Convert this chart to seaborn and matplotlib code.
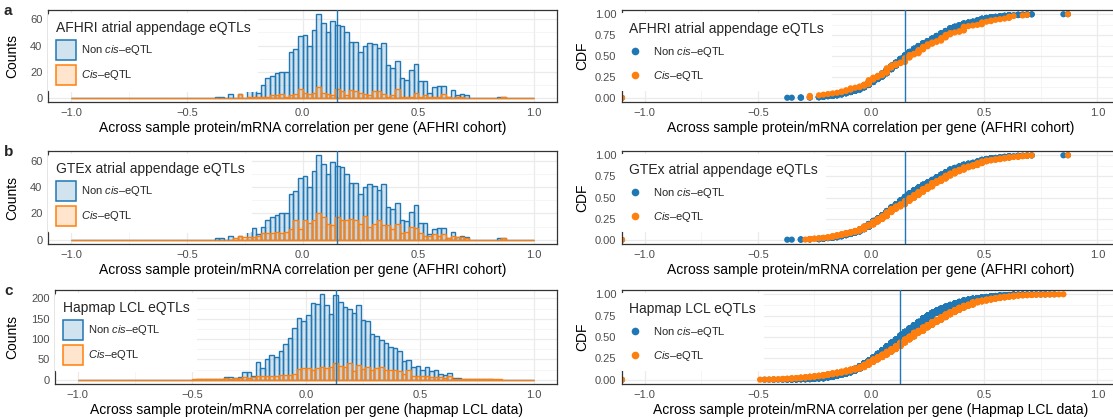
import numpy as np
import pandas as pd
import matplotlib
matplotlib.use("Agg")
import matplotlib.pyplot as plt
import seaborn as sns
from matplotlib.patches import Patch
from matplotlib.lines import Line2D
from matplotlib.colors import to_rgba
from matplotlib.ticker import MultipleLocator, FuncFormatter

# ---------------- data: gene counts per 0.02-wide correlation bin ----------------
BIN_WIDTH = 0.02

afhri_noncis_first_bin = -0.38
afhri_noncis_counts = [1, 1, 0, 3, 0, 3, 0, 8, 9, 4, 10, 15, 17, 19, 20, 20, 35, 37, 47, 48,
                       40, 52, 64, 57, 50, 59, 56, 55, 50, 43, 43, 35, 40, 42, 41, 38, 42, 25, 23, 28,
                       15, 14, 21, 26, 13, 13, 4, 8, 9, 9, 1, 6, 2, 3, 2, 0, 0, 0, 0, 0, 0, 1, 1]
afhri_cis_first_bin = -0.28
afhri_cis_counts = [3, 0, 1, 1, 1, 1, 1, 2, 2, 3, 1, 2, 3, 7, 4, 3, 4, 8, 4, 3,
                    2, 7, 5, 2, 6, 5, 4, 3, 2, 5, 5, 3, 1, 2, 7, 1, 1, 1, 4, 1,
                    2, 1, 1, 1, 3, 1, 0, 1, 1, 0, 0, 0, 0, 0, 0, 0, 0, 1]

gtex_noncis_first_bin = -0.38
gtex_noncis_counts = [1, 1, 0, 3, 0, 3, 0, 8, 9, 4, 10, 15, 17, 19, 20, 20, 35, 37, 47, 48,
                      40, 52, 64, 57, 50, 59, 56, 55, 50, 43, 43, 35, 40, 42, 41, 38, 42, 25, 23, 28,
                      15, 14, 21, 26, 13, 13, 4, 8, 9, 9, 1, 6, 2, 3, 2, 0, 0, 0, 0, 0, 0, 1, 1]
gtex_cis_first_bin = -0.30
gtex_cis_counts = [1, 3, 2, 2, 2, 3, 5, 5, 5, 6, 5, 6, 8, 15, 8, 15, 13, 15, 20, 17,
                   12, 11, 17, 15, 15, 16, 15, 12, 18, 10, 12, 15, 11, 11, 8, 12, 5, 6, 10, 9,
                   5, 3, 3, 4, 3, 4, 1, 3, 2, 2, 1, 0, 0, 0, 0, 0, 0, 0, 1]

hapmap_noncis_first_bin = -0.48
hapmap_noncis_counts = [1, 1, 2, 1, 2, 3, 6, 7, 4, 6, 18, 18, 9, 44, 29, 50, 60, 55, 71, 88,
                        103, 126, 151, 145, 160, 189, 185, 210, 183, 162, 208, 191, 178, 175, 164, 183, 147, 145, 112, 107,
                        97, 90, 80, 77, 71, 46, 49, 31, 34, 25, 31, 21, 23, 15, 12, 17, 4, 4, 3, 3,
                        2, 2, 2, 1, 1]
hapmap_cis_first_bin = -0.50
hapmap_cis_counts = [1, 1, 1, 2, 1, 3, 2, 4, 3, 5, 4, 6, 5, 6, 8, 8, 9, 9, 10, 12,
                     11, 12, 14, 27, 30, 28, 25, 28, 31, 29, 32, 40, 34, 32, 42, 21, 37, 27, 32, 24,
                     29, 31, 25, 24, 24, 21, 13, 25, 10, 10, 10, 10, 7, 7, 7, 4, 8, 3, 2, 2,
                     2, 1, 1, 1, 1, 1, 1, 1]

group_labels = ["Non $\\mathit{cis}$\u2013eQTL", "$\\mathit{Cis}$\u2013eQTL"]
panel_letters = ["a", "b", "c"]
legend_titles = ["AFHRI atrial appendage eQTLs", "GTEx atrial appendage eQTLs", "Hapmap LCL eQTLs"]
hist_xlabels = ["Across sample protein/mRNA correlation per gene (AFHRI cohort)",
                "Across sample protein/mRNA correlation per gene (AFHRI cohort)",
                "Across sample protein/mRNA correlation per gene (hapmap LCL data)"]
cdf_xlabels = ["Across sample protein/mRNA correlation per gene (AFHRI cohort)",
               "Across sample protein/mRNA correlation per gene (AFHRI cohort)",
               "Across sample protein/mRNA correlation per gene (Hapmap LCL data)"]
hist_ymajor = [20, 20, 50]

panels = [
    (afhri_noncis_first_bin, afhri_noncis_counts, afhri_cis_first_bin, afhri_cis_counts),
    (gtex_noncis_first_bin, gtex_noncis_counts, gtex_cis_first_bin, gtex_cis_counts),
    (hapmap_noncis_first_bin, hapmap_noncis_counts, hapmap_cis_first_bin, hapmap_cis_counts),
]

# ---------------- style ----------------
sns.set_style("white")
plt.rcParams["font.family"] = ["Liberation Sans", "DejaVu Sans"]
plt.rcParams["mathtext.fontset"] = "custom"
plt.rcParams["mathtext.rm"] = "Liberation Sans"
plt.rcParams["mathtext.it"] = "Liberation Sans:italic"
plt.rcParams["axes.unicode_minus"] = True

BLUE = "#1F77B4"
ORANGE = "#FF7F0E"
COLORS = [BLUE, ORANGE]
GRID_MAJ = "#EBEBEB"
BORDER = "#333333"
TICKTXT = "#4D4D4D"
AXIS_TITLE_SIZE = 10

W, H = 1113, 419
fig = plt.figure(figsize=(W / 100, H / 100), dpi=100)


def px_axes(x0, y0, x1, y1):
    return fig.add_axes([x0 / W, 1 - y1 / H, (x1 - x0) / W, (y1 - y0) / H])


def expand(first_bin, counts):
    centers = first_bin + BIN_WIDTH * (np.arange(len(counts)) + 0.5)
    return np.repeat(centers, counts)


def fmt(decimals):
    def f(v, pos):
        s = f"{v:.{decimals}f}"
        if float(s) == 0:
            s = s.lstrip("-")
        return s.replace("-", "\u2212")
    return FuncFormatter(f)


def style_axes(ax):
    ax.set_axisbelow(True)
    ax.grid(which="major", color=GRID_MAJ, lw=0.9)
    ax.grid(which="minor", color="#F1F1F1", lw=0.5)
    for sp in ax.spines.values():
        sp.set_color(BORDER)
        sp.set_linewidth(0.9)
        sp.set_visible(True)
    ax.tick_params(which="major", length=2.5, width=0.7, color=BORDER,
                   labelsize=8, labelcolor=TICKTXT, pad=1.5)
    ax.tick_params(which="minor", length=0)


rows = [(10, 102), (151, 244), (290, 384)]
hist_left = [48, 48, 55]
hist_right = 557
cdf_left, cdf_right = 622, 1120   # right border lies just past the image edge

bin_edges = np.linspace(-1.0, 1.0, 101)

for i, (nb, nc, cb, cc) in enumerate(panels):
    y0, y1 = rows[i]
    hh = y1 - y0
    noncis = expand(nb, nc)
    cis = expand(cb, cc)
    med = np.median(noncis)

    # ---------- histogram ----------
    axh = px_axes(hist_left[i], y0, hist_right, y1)
    style_axes(axh)
    for vals, col in zip([noncis, cis], COLORS):
        sns.histplot(x=vals, bins=bin_edges, color=col, alpha=0.2, edgecolor=col,
                     linewidth=1.0, ax=axh, zorder=2)
    axh.axvline(med, color=BLUE, lw=1.0, zorder=3)
    ymax = max(max(nc), max(cc))
    axh.set_xlim(-1.1, 1.1)
    axh.set_ylim(-0.05 * ymax, 1.05 * ymax)
    axh.xaxis.set_major_locator(MultipleLocator(0.5))
    axh.xaxis.set_minor_locator(MultipleLocator(0.25))
    axh.yaxis.set_major_locator(MultipleLocator(hist_ymajor[i]))
    axh.yaxis.set_minor_locator(MultipleLocator(hist_ymajor[i] / 2))
    axh.xaxis.set_major_formatter(fmt(1))
    axh.set_xlabel(hist_xlabels[i], fontsize=AXIS_TITLE_SIZE, color="black")
    axh.set_ylabel("Counts", fontsize=AXIS_TITLE_SIZE, color="black")
    hw = hist_right - hist_left[i]
    axh.xaxis.set_label_coords(0.5, -(121 - 102) / hh)
    axh.yaxis.set_label_coords((19 - hist_left[i]) / hw, 0.5)
    handles = [Patch(facecolor=to_rgba(c, 0.2), edgecolor=c, linewidth=1.1) for c in COLORS]
    leg = axh.legend(handles, group_labels, title=legend_titles[i], loc="upper left",
                     bbox_to_anchor=(-3 / hw, 1), fontsize=8, title_fontsize=10,
                     handlelength=1.8, handleheight=2.39, labelspacing=0.45,
                     handletextpad=0.5, borderaxespad=0.3, borderpad=0.65,
                     frameon=True, facecolor="white", edgecolor="none", framealpha=1,
                     alignment="left")
    leg.set_zorder(5)
    fig.text(4 / W, 1 - (y0 - 6) / H, panel_letters[i], fontsize=11, fontweight="bold",
             va="top", ha="left")

    # ---------- CDF ----------
    cw = cdf_right - cdf_left
    axc = px_axes(cdf_left, y0, cdf_right, y1)
    style_axes(axc)
    axc.set_xlim(-1.1, 1.1)
    axc.set_ylim(-0.05, 1.05)
    xl = axc.get_xlim()
    for vals, col in zip([noncis, cis], COLORS):
        xs = np.sort(vals)
        ys = np.arange(1, len(xs) + 1) / len(xs)
        xs = np.concatenate([[xl[0]], xs, [xl[1]]])
        ys = np.concatenate([[0.0], ys, [1.0]])
        sns.scatterplot(x=xs, y=ys, color=col, s=20, linewidth=0, edgecolor="none",
                        ax=axc, legend=False, zorder=2)
    axc.axvline(med, color=BLUE, lw=1.0, zorder=3)
    axc.xaxis.set_major_locator(MultipleLocator(0.5))
    axc.xaxis.set_minor_locator(MultipleLocator(0.25))
    axc.yaxis.set_major_locator(MultipleLocator(0.25))
    axc.yaxis.set_minor_locator(MultipleLocator(0.125))
    axc.xaxis.set_major_formatter(fmt(1))
    axc.yaxis.set_major_formatter(fmt(2))
    axc.set_xlabel(cdf_xlabels[i], fontsize=AXIS_TITLE_SIZE, color="black")
    axc.set_ylabel("CDF", fontsize=AXIS_TITLE_SIZE, color="black")
    axc.xaxis.set_label_coords(0.5, -(121 - 102) / hh)
    axc.yaxis.set_label_coords((589 - cdf_left) / cw, 0.5)
    mh = [Line2D([], [], ls="", marker="o", markersize=5.5, color=c, markeredgewidth=0)
          for c in COLORS]
    leg2 = axc.legend(mh, group_labels, title=legend_titles[i], loc="upper left",
                      bbox_to_anchor=(-5 / cw, 1), fontsize=8, title_fontsize=10,
                      handlelength=1.2, labelspacing=0.85, handletextpad=1.0,
                      borderaxespad=0.3, borderpad=0.75,
                      frameon=True, facecolor="white", edgecolor="none", framealpha=1,
                      alignment="left")
    leg2.set_zorder(5)

fig.savefig("out.png", dpi=100)
